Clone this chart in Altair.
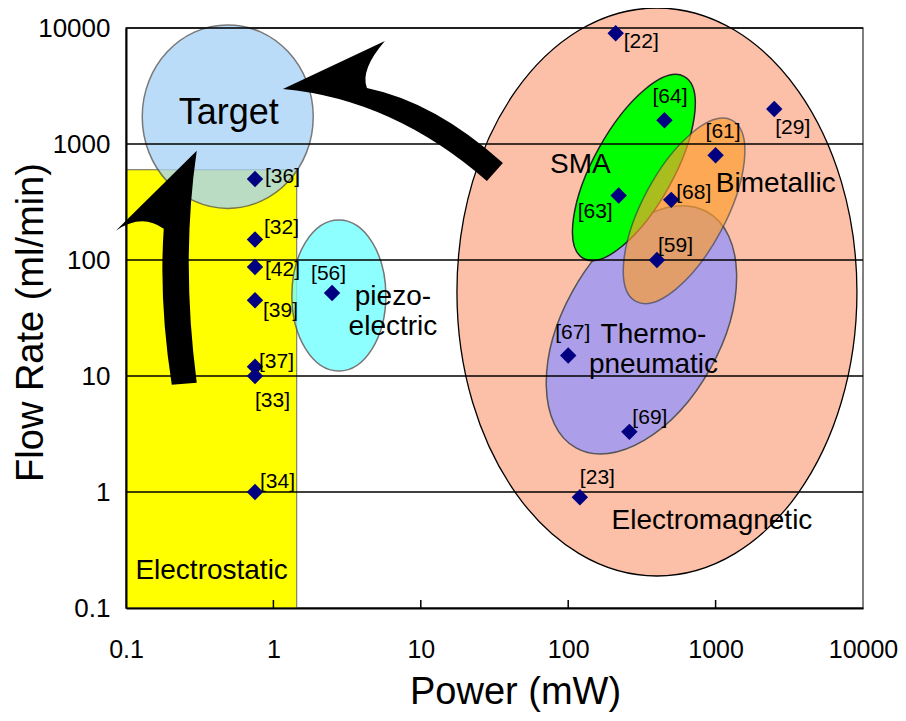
import altair as alt
import pandas as pd

# ---- measured points (power in mW, flow rate in ml/min) ----
refs = ["[36]", "[32]", "[42]", "[39]", "[37]", "[33]", "[34]", "[56]", "[22]",
        "[64]", "[29]", "[61]", "[63]", "[68]", "[59]", "[67]", "[69]", "[23]"]
power_mw = [0.75, 0.75, 0.75, 0.75, 0.75, 0.75, 0.75, 2.5, 210,
            450, 2500, 1000, 220, 500, 400, 100, 260, 120]
flow_ml_min = [500, 150, 87, 45, 12, 10, 1, 52, 9000,
               1600, 2000, 800, 360, 330, 100, 15, 3.3, 0.9]
# label offsets (px) relative to each marker
label_dx = [10, 9, 10, 8, 4, 0, 5, -21, 8, -12, 1, -10, -41, 5, 1, -13, 3, 0]
label_dy = [4, -6, 9, 17, 1, 31, -4, -13, 15, -17, 25, -17, 23, -1, -8, -17, -8, -13]

# ---- axes ----
axis_values = [0.1, 1, 10, 100, 1000, 10000]
grid_values = [1, 10, 100, 1000, 10000]
x_tick_values = [1, 10, 100, 1000]

# ---- Electrostatic region (rectangle) ----
es_power = [0.1, 1.44]
es_flow = [0.1, 600]

# ---- actuator regions (ellipses): centre in data units, semi-axes in px ----
region_names = ["Electromagnetic", "Thermo-pneumatic", "SMA", "Bimetallic", "piezo-electric", "Target"]
region_cx = [400, 314, 279, 611, 2.78, 0.49]
region_cy = [53, 25, 627, 265, 49.4, 1720]
region_rx = [200, 79, 40, 42, 47, 85.5]
region_ry = [284, 135, 104, 102.5, 75.5, 91.7]
region_tilt = [0, 29, 29, 28, 0, 0]
region_fill = ["#FCBFA8", "#AC9EE8", "#00FF00", "#FC9E2D", "#73FFFF", "#A8D3F8"]
region_opacity = [1, 1, 1, 0.67, 0.8, 0.79]
region_stroke = ["#000000", "#555555", "#222222", "#444444", "#555555", "#555555"]
region_sw = [1.3, 1.5, 1.5, 1.5, 1.5, 1.5]

# ---- category labels ----
cat_text = ["Target", "SMA", "Bimetallic", "Thermo-\npneumatic", "piezo-\nelectric",
            "Electrostatic", "Electromagnetic"]
cat_x = [0.498, 121, 2560, 379, 6.47, 0.381, 945]
cat_y = [1488, 562, 388, 19.2, 40.9, 0.178, 0.48]
cat_size = [36, 28, 28, 28, 28, 28, 28]

# ---- arrows (anchored at their tips), shape in px ----
arrow_x = [1.16, 0.302]
arrow_y = [2978, 875]
arrow_path = [
    "M 0 0 L 102 -48 Q 77 -19 84 -1 Q 152 13 220 74 L 204 92 Q 110 10 0 0 Z",
    "M 0 0 Q -16 110 0 232 L -25 234 Q -38 150 -33 78 Q -55 62 -81 80 Z",
]

FONT = "Liberation Sans"
W, H = 737, 580

xscale = alt.Scale(type="log", domain=[0.1, 10000])
yscale = alt.Scale(type="log", domain=[0.1, 10000])

xaxis = alt.Axis(values=axis_values, format="~g", labelFontSize=25, labelPadding=29,
                 labelFlush=False, labelOverlap=False, ticks=False, grid=False,
                 domainColor="black", domainWidth=2, labelColor="black",
                 title="Power (mW)", titleFontSize=38, titleFontWeight="normal",
                 titleColor="black", titleX=389, titleY=95, titleAlign="center",
                 titleBaseline="alphabetic", zindex=1)
yaxis = alt.Axis(values=axis_values, format="~g", labelFontSize=26, labelPadding=16,
                 labelFlush=False, labelOverlap=False, ticks=False, grid=False,
                 domainColor="black", domainWidth=2, labelColor="black",
                 title="Flow Rate (ml/min)", titleFontSize=38, titleFontWeight="normal",
                 titleColor="black", titleX=-84, titleY=294, titleAngle=270,
                 titleAlign="center", titleBaseline="alphabetic", zindex=1)


def X(f):
    return alt.X(f, type="quantitative", scale=xscale, axis=xaxis)


def Y(f):
    return alt.Y(f, type="quantitative", scale=yscale, axis=yaxis)


def ellipse_path(rx, ry):
    return (f"M 0 {-ry} A {rx} {ry} 0 0 1 {rx} 0 A {rx} {ry} 0 0 1 0 {ry} "
            f"A {rx} {ry} 0 0 1 {-rx} 0 A {rx} {ry} 0 0 1 0 {-ry} Z")


# rectangle
rect_df = pd.DataFrame({"x": [es_power[0]], "x2": [es_power[1]], "y": [es_flow[0]], "y2": [es_flow[1]]})
rect = alt.Chart(rect_df).mark_rect(fill="#FFFF00", stroke="#666666", strokeWidth=1).encode(
    x=X("x"), x2="x2", y=Y("y"), y2="y2")

# ellipses
ell_df = pd.DataFrame({
    "name": region_names, "cx": region_cx, "cy": region_cy,
    "path": [ellipse_path(a, b) for a, b in zip(region_rx, region_ry)],
    "tilt": region_tilt, "fill": region_fill, "op": region_opacity,
    "stroke": region_stroke, "sw": region_sw,
})
ellipses = alt.Chart(ell_df).mark_point(size=4, filled=True).encode(
    x=X("cx"), y=Y("cy"),
    shape=alt.Shape("path:N", scale=None),
    fill=alt.Fill("fill:N", scale=None),
    stroke=alt.Stroke("stroke:N", scale=None),
    strokeWidth=alt.StrokeWidth("sw:Q", scale=None),
    opacity=alt.Opacity("op:Q", scale=None),
    angle=alt.Angle("tilt:Q", scale=None),
)

# gridlines
grid = alt.Chart(pd.DataFrame({"v": grid_values})).mark_rule(color="#000000", strokeWidth=1.5).encode(
    y=Y("v"))

# inner ticks on x axis
xticks = alt.Chart(pd.DataFrame({"v": x_tick_values})).mark_rule(color="black", strokeWidth=1.5).encode(
    x=X("v"), y=alt.value(H), y2=alt.value(H - 8))

# arrows
arr_df = pd.DataFrame({"x": arrow_x, "y": arrow_y, "path": arrow_path})
arrows = alt.Chart(arr_df).mark_point(size=4, filled=True, color="black", opacity=1, strokeWidth=0).encode(
    x=X("x"), y=Y("y"), shape=alt.Shape("path:N", scale=None))

# points
pts_df = pd.DataFrame({"ref": refs, "power": power_mw, "flow": flow_ml_min})
points = alt.Chart(pts_df).mark_point(shape="diamond", size=270, filled=True, color="#000080",
                                      opacity=1).encode(x=X("power"), y=Y("flow"))

# ref labels
ref_layers = []
for r, p, f, dx, dy in zip(refs, power_mw, flow_ml_min, label_dx, label_dy):
    d = pd.DataFrame({"ref": [r], "power": [p], "flow": [f]})
    ref_layers.append(
        alt.Chart(d).mark_text(align="left", baseline="alphabetic", dx=dx, dy=dy,
                               fontSize=21, color="black", font=FONT).encode(
            x=X("power"), y=Y("flow"), text="ref:N"))

# category labels
cat_df = pd.DataFrame({"t": cat_text, "x": cat_x, "y": cat_y, "s": cat_size})
cats = alt.Chart(cat_df).mark_text(align="center", baseline="alphabetic", lineBreak="\n",
                                   lineHeight=30, color="black", font=FONT).encode(
    x=X("x"), y=Y("y"), text="t:N", size=alt.Size("s:Q", scale=None))

chart = alt.layer(rect, ellipses, grid, xticks, arrows, points, *ref_layers, cats).properties(
    width=W, height=H,
    autosize=alt.AutoSizeParams(type="none"),
    padding={"left": 118, "top": 20, "right": 35, "bottom": 105},
).configure(font=FONT).configure_view(stroke="#555555", strokeWidth=1.5)

chart.save("out.html", embed_options={"renderer": "svg", "actions": False})
